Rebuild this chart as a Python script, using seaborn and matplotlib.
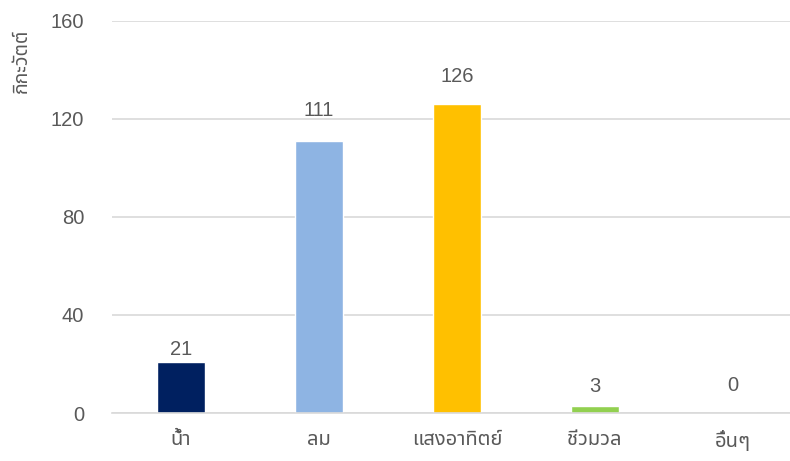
import matplotlib
matplotlib.use("Agg")
import matplotlib.pyplot as plt
from matplotlib import font_manager, ft2font
import seaborn as sns
import pandas as pd

# data
sources = ["น้ำ", "ลม", "แสงอาทิตย์", "ชีวมวล", "อื่นๆ"]
gigawatts = [21, 111, 126, 3, 0]
bar_colors = ["#002060", "#8EB4E3", "#FFC000", "#92D050", "#A5A5A5"]
y_ticks = [0, 40, 80, 120, 160]
y_label = "กิกะวัตต์"

# label offsets above bars (points)
label_pad = [2, 15, 13, 7, 13]


def find_thai_font():
    """Pick an installed font that has Thai glyphs."""
    found = []
    for path in font_manager.findSystemFonts():
        try:
            f = ft2font.FT2Font(path)
            if 0x0E01 in f.get_charmap() and 0x0E49 in f.get_charmap():
                found.append(font_manager.FontProperties(fname=path).get_name())
        except Exception:
            continue
    for pref in ["Tahoma", "Leelawadee UI", "Noto Sans Thai", "Loma", "Garuda"]:
        if pref in found:
            return pref
    return found[0] if found else "DejaVu Sans"


thai_font = find_thai_font()

sns.set_theme(style="white")
plt.rcParams["font.family"] = ["Liberation Sans", thai_font, "DejaVu Sans"]

df = pd.DataFrame({"source": sources, "gw": gigawatts})

fig = plt.figure(figsize=(7.9, 4.61), dpi=100)
ax = fig.add_axes([112 / 790, 48 / 461, 678 / 790, 392 / 461])

sns.barplot(data=df, x="source", y="gw", hue="source", palette=bar_colors,
            width=0.35, legend=False, ax=ax, saturation=1)

ax.set_ylim(0, 160)
ax.set_xlim(-0.5, -0.5 + 678 / 138)
ax.set_yticks(y_ticks)
ax.yaxis.grid(True, color="#D9D9D9", linewidth=1.2)
ax.set_axisbelow(True)
for side in ["left", "right", "top"]:
    ax.spines[side].set_visible(False)
ax.spines["bottom"].set_color("#D9D9D9")
ax.spines["bottom"].set_linewidth(1.2)

ax.tick_params(axis="y", length=0, pad=20, labelsize=14.5, labelcolor="#595959")
ax.tick_params(axis="x", length=0, pad=12, labelsize=14.5, labelcolor="#595959")
ax.set_xlabel("")
ax.set_ylabel("")

for i, v in enumerate(gigawatts):
    ax.annotate(str(v), (i, v), xytext=(0, label_pad[i]), textcoords="offset points",
                ha="center", va="bottom", fontsize=14.5, color="#595959")

fig.text(22 / 790, 1 - 61 / 461, y_label, rotation=90, ha="center", va="center",
         fontsize=14, color="#595959")

fig.savefig("out.png", dpi=100)
